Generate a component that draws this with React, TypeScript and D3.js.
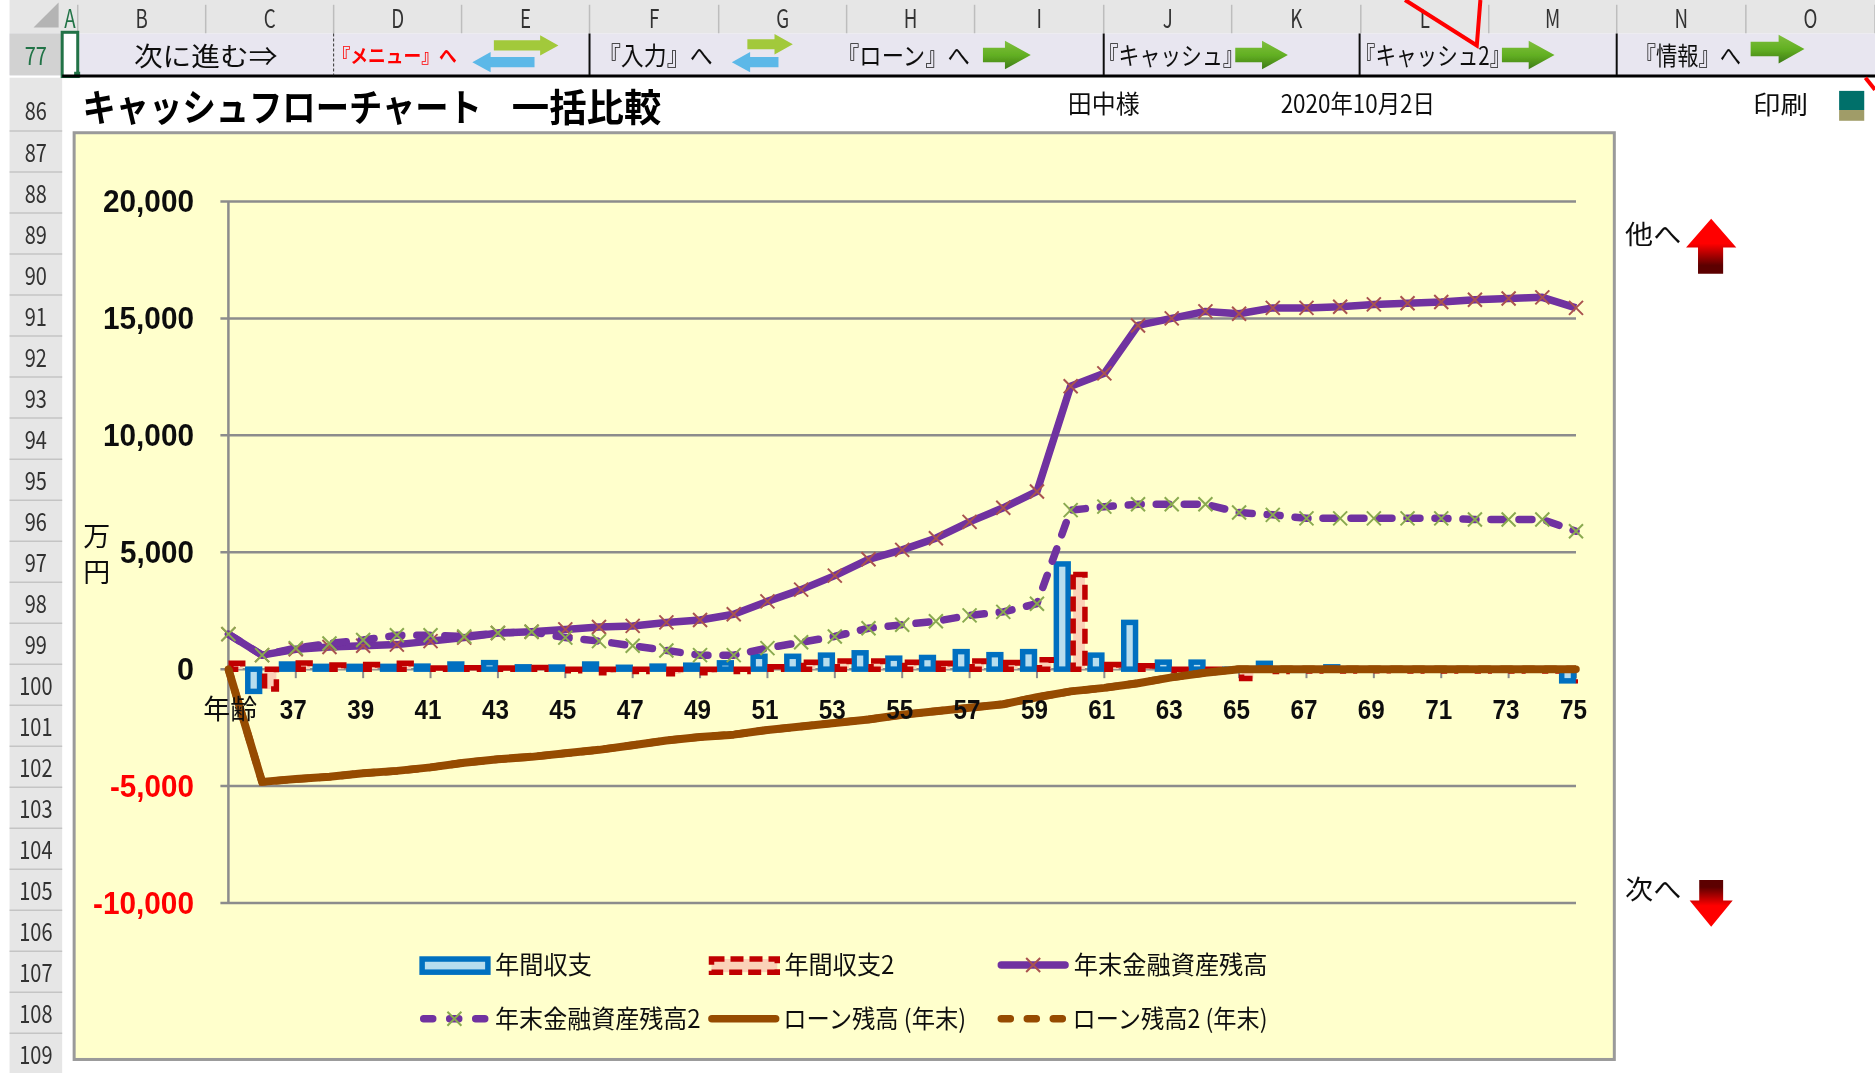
import React from "react";
import * as d3 from "d3";

const ages = d3.range(35, 76);
const flow1 = [0,-950,220,120,120,120,130,220,280,100,90,220,80,130,170,270,550,550,600,700,470,500,750,620,750,4500,600,2000,300,300,-50,250,-50,100,0,0,0,0,0,0,-500];
const flow2 = [250,-850,260,180,200,250,50,60,50,70,-70,-150,-100,-200,-150,-100,100,300,350,350,300,250,350,280,400,4050,200,150,-50,-50,-400,-100,-80,-80,-70,-80,-80,-80,-80,-80,-500];
const assets1 = [1500,600,850,950,1000,1050,1200,1350,1550,1600,1700,1800,1850,2000,2100,2350,2900,3400,4000,4700,5100,5600,6300,6900,7600,12100,12650,14700,15000,15300,15200,15450,15450,15500,15600,15650,15700,15800,15850,15900,15450];
const assets2 = [1500,600,900,1100,1250,1450,1450,1400,1550,1600,1350,1200,1000,800,600,600,900,1150,1400,1750,1900,2050,2300,2450,2800,6800,6950,7050,7050,7050,6700,6600,6450,6450,6450,6450,6450,6400,6400,6400,5900];
const loan1 = [0,-4820,-4700,-4600,-4450,-4350,-4200,-4000,-3850,-3750,-3600,-3450,-3250,-3050,-2900,-2800,-2600,-2450,-2300,-2150,-1950,-1800,-1650,-1500,-1200,-950,-800,-600,-350,-150,0,0,0,0,0,0,0,0,0,0,0];
const loan2 = loan1.slice();
const yTicks = [20000,15000,10000,5000,0,-5000,-10000];
const xTickAges = d3.range(37, 76, 2);
const columns = ["A","B","C","D","E","F","G","H","I","J","K","L","M","N","O"];
const columnEdges = [52,65,172,279,386,493,601,708,815,923,1030,1138,1245,1352,1460,1568];
const rows = ["86","87","88","89","90","91","92","93","94","95","96","97","98","99","100","101","102","103","104","105","106","107","108","109"];

const k = 1875 / 1568;
const s = (v: number) => v * k;
const gothic = "'Noto Sans CJK JP','Noto Sans',sans-serif";
const narrow = "'Liberation Sans Narrow','Liberation Sans',sans-serif";

const x = d3.scaleLinear().domain([35, 75]).range([228.4, 1576]);
const y = d3.scaleLinear().domain([-10000, 20000]).range([903, 201.5]);
const band = d3.scaleBand<string>().domain(["a","b"]).range([-16.8, 16.8]);
const lineGen = d3.line<number>().x((_, i) => x(ages[i])).y(d => y(d));
const fmt = d3.format(",");
const labelWidth = (t: number) => 17 * fmt(Math.abs(t)).replace(",", "").length + 6 * (Math.abs(t) >= 1000 ? 1 : 0) + (t < 0 ? 10 : 0);

function T({ x0, x1, cy, size, fill = "#111", weight = 400, font = gothic, children }: any) {
  return (
    <text x={s(x0)} y={s(cy) - 2} dominantBaseline="central" fontFamily={font} fontSize={size} fontWeight={weight} fill={fill}
      textLength={s(x1 - x0)} lengthAdjust="spacingAndGlyphs">{children}</text>
  );
}

function Arrow({ x0, x1, cy, h, dir, fill }: any) {
  const a = s(x0), b = s(x1), c = s(cy), t = s(h);
  const head = t * 0.9;
  const p = dir > 0
    ? [[a, c - t / 4], [b - head, c - t / 4], [b - head, c - t / 2], [b, c], [b - head, c + t / 2], [b - head, c + t / 4], [a, c + t / 4]]
    : [[b, c - t / 4], [a + head, c - t / 4], [a + head, c - t / 2], [a, c], [a + head, c + t / 2], [a + head, c + t / 4], [b, c + t / 4]];
  return <polygon points={p.map(q => q.join(",")).join(" ")} fill={fill} />;
}

function Cross({ cx, cy, r, color }: any) {
  return <path d={`M${cx - r},${cy - r}L${cx + r},${cy + r}M${cx - r},${cy + r}L${cx + r},${cy - r}`} stroke={color} strokeWidth={2} fill="none" />;
}

export default function App() {
  const zero = y(0);
  const bar = (v: number, i: number, key: string) => {
    const w = band.bandwidth() - 5;
    const cx = x(ages[i]) + (band(key) as number) + band.bandwidth() / 2;
    return { x: cx - w / 2, y: Math.min(y(v), zero), width: w, height: Math.abs(y(v) - zero) };
  };
  const legendLine = (x0: number, cy: number, color: string, dash?: string) => (
    <line x1={s(x0) + 4} x2={s(x0 + 60) - 4} y1={s(cy)} y2={s(cy)} stroke={color} strokeWidth={7.5} strokeLinecap="round" strokeDasharray={dash} />
  );
  return (
    <svg width={1875} height={1073} style={{ position: "absolute", left: 0, top: 0, background: "#fff" }}>
      <defs>
        <filter id="soft" x="0" y="0" width="100%" height="100%"><feGaussianBlur stdDeviation="0.6" /></filter>
        <clipPath id="plot"><rect x={x(35)} y={150} width={x(75) - x(35) + 2} height={800} /></clipPath>
        <linearGradient id="up" x1="0" y1="0" x2="0" y2="1">
          <stop offset="0.45" stopColor="#ff0000" /><stop offset="0.85" stopColor="#5c0000" /><stop offset="1" stopColor="#5c0000" />
        </linearGradient>
        <linearGradient id="down" x1="0" y1="1" x2="0" y2="0">
          <stop offset="0.45" stopColor="#ff0000" /><stop offset="0.85" stopColor="#5c0000" /><stop offset="1" stopColor="#5c0000" />
        </linearGradient>
        <linearGradient id="green" x1="0" y1="0" x2="0" y2="1">
          <stop offset="0" stopColor="#7fbf3f" /><stop offset="0.5" stopColor="#63b022" /><stop offset="1" stopColor="#3d7a17" />
        </linearGradient>
      </defs>
      <g filter="url(#soft)">
        {/* sheet header */}
        <rect x={s(8)} y={0} width={1875} height={s(28)} fill="#E6E6E6" />
        <polygon points={`${s(28)},${s(23)} ${s(49)},${s(23)} ${s(49)},${s(2)}`} fill="#B4B4B4" />
        {columns.map((c, i) => {
          const cx = s((columnEdges[i] + columnEdges[i + 1]) / 2);
          return (
            <g key={c}>
              <line x1={s(columnEdges[i + 1])} x2={s(columnEdges[i + 1])} y1={s(4)} y2={s(28)} stroke="#BDBDBD" strokeWidth={1.5} />
              <text x={cx} y={s(14)} textAnchor="middle" dominantBaseline="central" fontFamily={gothic} fontSize={25} fill={i === 0 ? "#217346" : "#333"} transform={`translate(${cx * 0.25},0) scale(0.75,1)`}>{c}</text>
            </g>
          );
        })}
        <rect x={s(8)} y={s(28)} width={1875} height={s(35)} fill="#E8E6F0" />
        <rect x={s(8)} y={s(28)} width={s(44)} height={s(35)} fill="#D2D2D2" />
        <rect x={s(8)} y={s(65)} width={s(44)} height={1073 - s(65)} fill="#E6E6E6" />
        <rect x={s(52)} y={s(27)} width={s(13)} height={s(37)} fill="#fff" stroke="#217346" strokeWidth={3} />
        <rect x={s(62)} y={s(60)} width={6} height={6} fill="#217346" />
        <line x1={s(52)} x2={1875} y1={s(63.5)} y2={s(63.5)} stroke="#000" strokeWidth={3} />
        {[493, 923, 1137, 1352].map(v => <line key={v} x1={s(v)} x2={s(v)} y1={s(28)} y2={s(63)} stroke="#111" strokeWidth={2} />)}
        <line x1={s(279)} x2={s(279)} y1={s(28)} y2={s(63)} stroke="#333" strokeWidth={1} strokeDasharray="3 2" />
        <text x={s(30)} y={s(46)} textAnchor="middle" dominantBaseline="central" fontFamily={gothic} fontSize={25} fill="#217346" transform={`translate(${s(30) * 0.2},0) scale(0.8,1)`}>77</text>
        {rows.map((r, i) => {
          const cy = s(92 + i * 34.3);
          return (
            <g key={r}>
              <line x1={s(8)} x2={s(52)} y1={cy + 21} y2={cy + 21} stroke="#C4C4C4" strokeWidth={1.5} />
              <text x={s(30)} y={cy} textAnchor="middle" dominantBaseline="central" fontFamily={gothic} fontSize={25} fill="#333" transform={`translate(${s(30) * 0.2},0) scale(0.8,1)`}>{r}</text>
            </g>
          );
        })}
        {/* navigation row */}
        <T x0={112} x1={232} cy={47} size={26}>次に進む⇒</T>
        <T x0={278} x1={382} cy={47} size={19} fill="#FF0000" weight={700}>『メニュー』へ</T>
        <T x0={500} x1={596} cy={47} size={25}>『入力』へ</T>
        <T x0={700} x1={811} cy={47} size={25}>『ローン』へ</T>
        <T x0={918} x1={1040} cy={47} size={25}>『キャッシュ』</T>
        <T x0={1133} x1={1263} cy={47} size={25}>『キャッシュ2』</T>
        <T x0={1367} x1={1456} cy={47} size={25}>『情報』へ</T>
        <Arrow x0={413} x1={467} cy={38} h={17} dir={1} fill="#A2C93A" />
        <Arrow x0={395} x1={447} cy={52} h={17} dir={-1} fill="#5BB8E8" />
        <Arrow x0={625} x1={663} cy={37} h={17} dir={1} fill="#A2C93A" />
        <Arrow x0={612} x1={651} cy={52} h={17} dir={-1} fill="#5BB8E8" />
        {[[822,862,46],[1033,1077,46],[1256,1300,46],[1464,1509,41]].map(([a,b,c]) => <Arrow key={a} x0={a} x1={b} cy={c} h={24} dir={1} fill="url(#green)" />)}
        {/* title row */}
        <T x0={69} x1={403} cy={89} size={38} weight={700} fill="#000">キャッシュフローチャート</T>
        <T x0={428} x1={553} cy={89} size={38} weight={700} fill="#000">一括比較</T>
        <T x0={893} x1={953} cy={87} size={25}>田中様</T>
        <T x0={1071} x1={1200} cy={87} size={25}>2020年10月2日</T>
        <T x0={1466} x1={1512} cy={88} size={25}>印刷</T>
        <rect x={s(1538)} y={s(76)} width={s(21)} height={s(16)} fill="#006F6B" />
        <rect x={s(1538)} y={s(92)} width={s(21)} height={s(9)} fill="#A09C68" />
        {/* chart area */}
        <rect x={s(62)} y={s(111)} width={s(1288)} height={s(775)} fill="#FFFFCC" stroke="#9A9A9A" strokeWidth={3} />
        <line x1={x(35)} x2={x(35)} y1={y(20000)} y2={y(-10000)} stroke="#8C8C8C" strokeWidth={2.5} />
        {yTicks.map(t => (
          <g key={t}>
            <line x1={x(35) - 8} x2={x(75)} y1={y(t)} y2={y(t)} stroke="#8C8C8C" strokeWidth={2.5} />
            <text x={194} y={y(t)} textAnchor="end" dominantBaseline="central" fontFamily={narrow} fontWeight={700} fontSize={31} fill={t < 0 ? "#FF0000" : "#111"} textLength={labelWidth(t)} lengthAdjust="spacingAndGlyphs">{t < 0 ? "-" : ""}{fmt(Math.abs(t))}</text>
          </g>
        ))}
        {xTickAges.map(a => <line key={a} x1={x(a)} x2={x(a)} y1={zero} y2={zero + 9} stroke="#8C8C8C" strokeWidth={2} />)}
        {/* bars */}
        <g clipPath="url(#plot)">
          {flow1.map((v, i) => <rect key={i} {...bar(v, i, "a")} fill="#B7DDEE" stroke="#0070C0" strokeWidth={5.5} />)}
          {flow2.map((v, i) => <rect key={i} {...bar(v, i, "b")} fill="#FBD2B8" stroke="#C00000" strokeWidth={5.5} strokeDasharray="15 7" />)}
        </g>
        {/* lines */}
        <path d={lineGen(assets1) as string} fill="none" stroke="#7030A0" strokeWidth={7.5} strokeLinejoin="round" />
        {assets1.map((v, i) => <Cross key={i} cx={x(ages[i])} cy={y(v)} r={7} color="#A9524F" />)}
        <path d={lineGen(assets2) as string} fill="none" stroke="#7030A0" strokeWidth={7.5} strokeLinecap="round" strokeDasharray="13 15" />
        {assets2.map((v, i) => <Cross key={i} cx={x(ages[i])} cy={y(v)} r={7} color="#8AAA50" />)}
        <path d={lineGen(loan2) as string} fill="none" stroke="#964B06" strokeWidth={7.5} strokeLinecap="round" strokeDasharray="10 12" />
        <path d={lineGen(loan1) as string} fill="none" stroke="#964B06" strokeWidth={8} strokeLinejoin="round" />
        {/* axis labels sit above the lines */}
        {xTickAges.map(a => (
          <text key={a} x={x(a) - 2.5} y={709} textAnchor="middle" dominantBaseline="central" fontFamily={narrow} fontWeight={700} fontSize={28} fill="#111" textLength={27} lengthAdjust="spacingAndGlyphs">{a}</text>
        ))}
        <T x0={170} x1={215} cy={593} size={27}>年齢</T>
        <text x={s(81)} y={s(447)} textAnchor="middle" dominantBaseline="central" fontFamily={gothic} fontSize={27} fill="#111">万</text>
        <text x={s(81)} y={s(477)} textAnchor="middle" dominantBaseline="central" fontFamily={gothic} fontSize={27} fill="#111">円</text>
        {/* legend */}
        <rect x={s(353)} y={s(802)} width={s(55)} height={s(11)} fill="#B7DDEE" stroke="#0070C0" strokeWidth={5.5} />
        <T x0={414} x1={495} cy={807} size={25}>年間収支</T>
        <rect x={s(595)} y={s(802)} width={s(55)} height={s(11)} fill="#FBD2B8" stroke="#C00000" strokeWidth={5.5} strokeDasharray="13 6" />
        <T x0={656} x1={748} cy={807} size={25}>年間収支2</T>
        {legendLine(834, 807, "#7030A0")}
        <Cross cx={s(864)} cy={s(807)} r={7} color="#A9524F" />
        <T x0={898} x1={1060} cy={807} size={25}>年末金融資産残高</T>
        {legendLine(351, 852, "#7030A0", "9 17")}
        <Cross cx={s(380)} cy={s(852)} r={7} color="#8AAA50" />
        <T x0={414} x1={586} cy={852} size={25}>年末金融資産残高2</T>
        {legendLine(592, 852, "#964B06")}
        <T x0={655} x1={808} cy={852} size={25}>ローン残高 (年末)</T>
        {legendLine(834, 852, "#964B06", "9 17")}
        <T x0={897} x1={1060} cy={852} size={25}>ローン残高2 (年末)</T>
        {/* side arrows */}
        <T x0={1359} x1={1406} cy={196} size={26}>他へ</T>
        <polygon points={`${s(1431)},${s(183)} ${s(1452)},${s(207)} ${s(1441)},${s(207)} ${s(1441)},${s(229)} ${s(1420)},${s(229)} ${s(1420)},${s(207)} ${s(1410)},${s(207)}`} fill="url(#up)" />
        <T x0={1359} x1={1406} cy={744} size={26}>次へ</T>
        <polygon points={`${s(1431)},${s(775)} ${s(1449)},${s(753)} ${s(1441)},${s(753)} ${s(1441)},${s(736)} ${s(1421)},${s(736)} ${s(1421)},${s(753)} ${s(1413)},${s(753)}`} fill="url(#down)" />
        {/* red connector lines */}
        <path d={`M${s(1175)},0L${s(1235)},${s(38)}L${s(1238)},0`} fill="none" stroke="#FF0000" strokeWidth={4} />
        <path d={`M${s(1560)},${s(65)}L${s(1568)},${s(75)}`} fill="none" stroke="#FF0000" strokeWidth={4} />
      </g>
    </svg>
  );
}
